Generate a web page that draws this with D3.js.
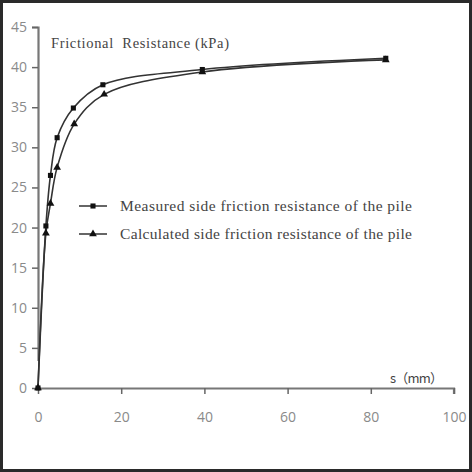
<!DOCTYPE html>
<html><head><meta charset="utf-8">
<script src="https://cdn.jsdelivr.net/npm/d3@7"></script>
<style>html,body{margin:0;padding:0;background:#fff;}</style>
</head><body>
<svg id="c" width="472" height="472"></svg>
<script>
const measuredX = [0, 1.9, 3.0, 4.6, 8.5, 15.6, 39.5, 83.6];
const measuredY = [0, 20.2, 26.5, 31.2, 34.9, 37.8, 39.7, 41.1];
const calcX = [0, 1.9, 3.0, 4.6, 8.7, 15.9, 39.5, 83.6];
const calcY = [0, 19.3, 23.0, 27.5, 32.9, 36.6, 39.4, 40.9];
const xTicks = [0, 20, 40, 60, 80, 100];
const yTicks = [0, 5, 10, 15, 20, 25, 30, 35, 40, 45];
const seriesNames = ["Measured side friction resistance of the pile", "Calculated side  friction resistance of the pile"];
const yTitle = "Frictional  Resistance (kPa)";
const xTitle = "s（mm）";

const svg = d3.select("#c");
svg.append("rect").attr("x",1.5).attr("y",1.5).attr("width",469).attr("height",469)
  .attr("fill","#fff").attr("stroke","#2a2a2a").attr("stroke-width",3);

const x = d3.scaleLinear().domain([0,100]).range([38,454]);
const y = d3.scaleLinear().domain([0,45]).range([388,27]);

const gx = svg.append("g").attr("transform","translate(0,388)")
  .call(d3.axisBottom(x).tickValues(xTicks).tickSize(6).tickPadding(18));
const gy = svg.append("g").attr("transform","translate(38,0)")
  .call(d3.axisLeft(y).tickValues(yTicks).tickSize(6).tickPadding(5));
[gx,gy].forEach(g=>{
  g.select(".domain").attr("stroke","#777").attr("stroke-width",2.2);
  g.selectAll(".tick line").attr("stroke","#666").attr("stroke-width",1.5);
  g.selectAll(".tick text").attr("fill","#8a8a8a").attr("font-family","Open Sans, sans-serif").attr("font-size",14);
});
gx.select(".domain").attr("d","M38,0.5H454V6");
gy.select(".domain").attr("d","M-6,27.5H0.5V361");

const line = d3.line().x(d=>x(d[0])).y(d=>y(d[1])).curve(d3.curveCatmullRom.alpha(0.5));
const mData = measuredX.map((v,i)=>[v,measuredY[i]]);
const cData = calcX.map((v,i)=>[v,calcY[i]]);
[mData,cData].forEach(dat=>{
  svg.append("path").datum(dat).attr("d",line).attr("fill","none").attr("stroke","#333").attr("stroke-width",1.6);
});
const sq = d3.symbol().type(d3.symbolSquare).size(26);
const tri = d3.symbol().type(d3.symbolTriangle).size(26);
svg.selectAll(".m").data(mData).join("path").attr("d",sq)
  .attr("transform",d=>`translate(${x(d[0])},${y(d[1])})`).attr("fill","#111");
svg.selectAll(".t").data(cData).join("path").attr("d",tri)
  .attr("transform",d=>`translate(${x(d[0])},${y(d[1])})`).attr("fill","#111");

// legend
const leg = [[206, sq],[234, tri]];
leg.forEach((l,i)=>{
  svg.append("line").attr("x1",79).attr("x2",107).attr("y1",l[0]).attr("y2",l[0]).attr("stroke","#666").attr("stroke-width",2);
  svg.append("path").attr("d",l[1]).attr("transform",`translate(93,${l[0]})`).attr("fill","#111");
  svg.append("text").attr("x",120).attr("y",l[0]+5).text(seriesNames[i])
    .attr("font-family","Liberation Serif, serif").attr("font-size",15.5).attr("fill","#444")
    .attr("textLength",292).attr("lengthAdjust","spacing");
});

svg.append("text").attr("x",51).attr("y",48).text(yTitle)
  .attr("font-family","Liberation Serif, serif").attr("font-size",14.5).attr("fill","#444")
  .attr("textLength",178).attr("lengthAdjust","spacing").style("white-space","pre");
svg.append("text").attr("x",390).attr("y",383).text(xTitle)
  .attr("font-family","Noto Sans CJK SC, sans-serif").attr("font-size",13).attr("fill","#444")
  .attr("textLength",53).attr("lengthAdjust","spacing");
</script>
</body></html>
